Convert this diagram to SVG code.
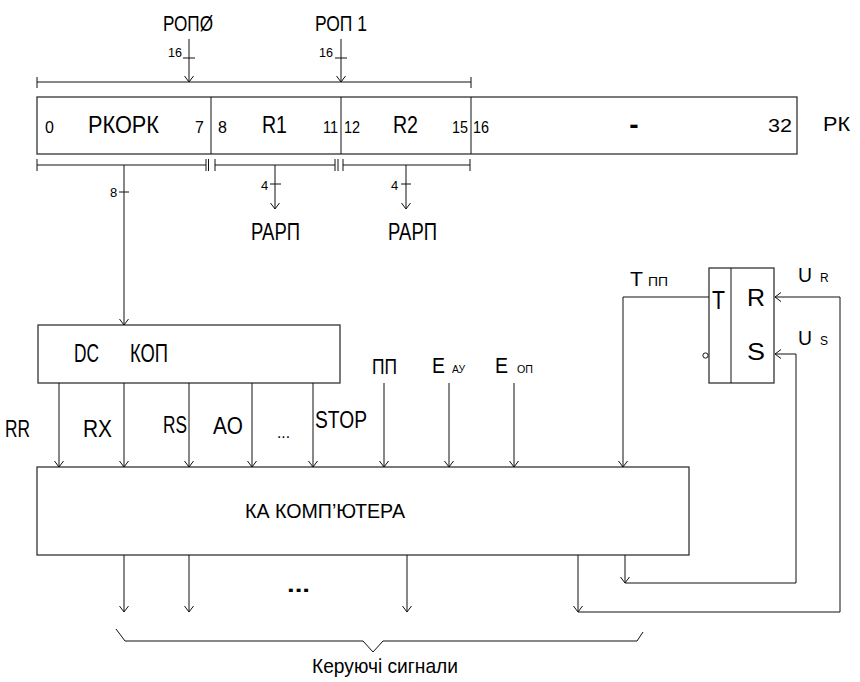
<svg xmlns="http://www.w3.org/2000/svg" width="860" height="682" viewBox="0 0 860 682">
<style>
text{font-family:"Liberation Sans",Arial,sans-serif;fill:#000}
.box{fill:#fff;stroke:#333;stroke-width:1.3}
.ln{fill:none;stroke:#111;stroke-width:1}
.big{font-size:23px}
.mid{font-size:16px}
.sm{font-size:13px}
.sub{font-size:11px}
</style>
<defs>
<marker id="a" viewBox="-7 -5 8 10" refX="0" refY="0" markerWidth="8" markerHeight="10" markerUnits="userSpaceOnUse" orient="auto">
<path d="M-6,-4.5 L0,0 L-6,4.5" fill="none" stroke="#111" stroke-width="1"/>
</marker>
</defs>
<rect width="860" height="682" fill="#fff"/>

<g id="register">
<rect class="box" x="37" y="97" width="760" height="57"/>
<line class="ln" x1="211" y1="97" x2="211" y2="154" stroke-width="1.3"/>
<line class="ln" x1="341" y1="97" x2="341" y2="154" stroke-width="1.3"/>
<line class="ln" x1="471" y1="97" x2="471" y2="154" stroke-width="1.3"/>
<text class="mid" x="45" y="133">0</text>
<text class="big" x="88" y="133" textLength="71" lengthAdjust="spacingAndGlyphs">РКОРК</text>
<text class="mid" x="195" y="133">7</text>
<text class="mid" x="218" y="133">8</text>
<text class="big" x="262" y="133" textLength="25" lengthAdjust="spacingAndGlyphs">R1</text>
<text class="mid" x="323" y="133" textLength="15" lengthAdjust="spacingAndGlyphs">11</text>
<text class="mid" x="344" y="133" textLength="16" lengthAdjust="spacingAndGlyphs">12</text>
<text class="big" x="393" y="133" textLength="25" lengthAdjust="spacingAndGlyphs">R2</text>
<text class="mid" x="452" y="133" textLength="16" lengthAdjust="spacingAndGlyphs">15</text>
<text class="mid" x="473" y="133" textLength="16" lengthAdjust="spacingAndGlyphs">16</text>
<text x="634" y="134" font-size="28" font-weight="bold" text-anchor="middle">-</text>
<text x="768" y="132" font-size="19" textLength="24" lengthAdjust="spacingAndGlyphs">32</text>
</g>
<text id="rk" x="823" y="131" font-size="21" textLength="27" lengthAdjust="spacingAndGlyphs">РК</text>

<g id="dc">
<rect class="box" x="38" y="325" width="302" height="58"/>
<text x="74" y="362" font-size="25" textLength="25" lengthAdjust="spacingAndGlyphs">DC</text>
<text x="130" y="362" font-size="25" textLength="38" lengthAdjust="spacingAndGlyphs">КОП</text>
</g>

<g id="ka">
<rect class="box" x="37" y="467" width="652" height="88"/>
<text x="245" y="518" font-size="21" textLength="160" lengthAdjust="spacingAndGlyphs">КА  КОМП’ЮТЕРА</text>
</g>

<g id="trigger">
<rect class="box" x="709" y="268" width="65" height="115"/>
<line class="ln" x1="731" y1="268" x2="731" y2="383" stroke-width="1.3"/>
<text x="712" y="309" font-size="25" textLength="13" lengthAdjust="spacingAndGlyphs">T</text>
<text x="747" y="306" font-size="24" textLength="18" lengthAdjust="spacingAndGlyphs">R</text>
<text x="747" y="360" font-size="24" textLength="18" lengthAdjust="spacingAndGlyphs">S</text>
<circle cx="705.5" cy="355.5" r="2.6" fill="#fff" stroke="#111" stroke-width="1"/>
</g>

<g id="connectors">
<path class="ln" d="M37,82 H471 M37,77 V88 M471,77 V88"/>
<path class="ln" d="M189,39 V82" marker-end="url(#a)"/>
<path class="ln" d="M183,58 H195"/>
<path class="ln" d="M341,39 V82" marker-end="url(#a)"/>
<path class="ln" d="M335,58 H347"/>
<path class="ln" d="M37,165 H206 M37,159 V171 M206,159 V171 M208.5,159 V171"/>
<path class="ln" d="M215,165 H335 M215,159 V171 M335,159 V171 M338,159 V171"/>
<path class="ln" d="M343,165 H470 M343,159 V171 M470,159 V171"/>
<path class="ln" d="M124,165 V325" marker-end="url(#a)"/>
<path class="ln" d="M119,192 H129"/>
<path class="ln" d="M275,165 V209" marker-end="url(#a)"/>
<path class="ln" d="M270,184 H281"/>
<path class="ln" d="M406,165 V209" marker-end="url(#a)"/>
<path class="ln" d="M401,184 H411"/>
<path class="ln" d="M59,383 V467" marker-end="url(#a)"/>
<path class="ln" d="M124,383 V467" marker-end="url(#a)"/>
<path class="ln" d="M189,383 V467" marker-end="url(#a)"/>
<path class="ln" d="M252,383 V467" marker-end="url(#a)"/>
<path class="ln" d="M313,383 V467" marker-end="url(#a)"/>
<path class="ln" d="M384,383 V467" marker-end="url(#a)"/>
<path class="ln" d="M449,383 V467" marker-end="url(#a)"/>
<path class="ln" d="M514,383 V467" marker-end="url(#a)"/>
<path class="ln" d="M709,297 H623 V467" marker-end="url(#a)"/>
<path class="ln" d="M578,555 V612" marker-end="url(#a)"/>
<path class="ln" d="M578,612 H840 V297 H775" marker-end="url(#a)"/>
<path class="ln" d="M625,555 V583" marker-end="url(#a)"/>
<path class="ln" d="M625,583 H796 V354 H775" marker-end="url(#a)"/>
<path class="ln" d="M124,555 V612" marker-end="url(#a)"/>
<path class="ln" d="M189,555 V612" marker-end="url(#a)"/>
<path class="ln" d="M407,555 V612" marker-end="url(#a)"/>
<path class="ln" d="M116,629 L125,641 L363,641 L373,652 L383,641 L637,641 L643,632"/>
</g>

<g id="labels">
<text x="163" y="31" font-size="22" textLength="50" lengthAdjust="spacingAndGlyphs">РОПØ</text>
<text x="315" y="31" font-size="22" textLength="52" lengthAdjust="spacingAndGlyphs">РОП 1</text>
<text class="sm" x="168" y="57" textLength="14" lengthAdjust="spacingAndGlyphs">16</text>
<text class="sm" x="319" y="57" textLength="14" lengthAdjust="spacingAndGlyphs">16</text>
<text class="sm" x="110" y="197">8</text>
<text class="sm" x="261" y="190">4</text>
<text class="sm" x="391" y="190">4</text>
<text class="big" x="251" y="240" textLength="49" lengthAdjust="spacingAndGlyphs">РАРП</text>
<text class="big" x="388" y="240" textLength="49" lengthAdjust="spacingAndGlyphs">РАРП</text>
<text x="5" y="437" font-size="23" textLength="25" lengthAdjust="spacingAndGlyphs">RR</text>
<text x="83" y="437" font-size="23" textLength="29" lengthAdjust="spacingAndGlyphs">RX</text>
<text x="163" y="433" font-size="23" textLength="24" lengthAdjust="spacingAndGlyphs">RS</text>
<text x="213" y="434" font-size="23" textLength="30" lengthAdjust="spacingAndGlyphs">AO</text>
<text x="277" y="438" font-size="16" textLength="13" lengthAdjust="spacingAndGlyphs">...</text>
<text x="315" y="428" font-size="24" textLength="52" lengthAdjust="spacingAndGlyphs">STOP</text>
<text x="372" y="374" font-size="22" textLength="25" lengthAdjust="spacingAndGlyphs">ПП</text>
<text x="432" y="373" font-size="22" textLength="13" lengthAdjust="spacingAndGlyphs">E</text>
<text class="sub" x="452" y="373" textLength="13" lengthAdjust="spacingAndGlyphs">АУ</text>
<text x="495" y="373" font-size="22" textLength="13" lengthAdjust="spacingAndGlyphs">E</text>
<text class="sub" x="517" y="373" textLength="16" lengthAdjust="spacingAndGlyphs">ОП</text>
<text x="630" y="286" font-size="20" textLength="13" lengthAdjust="spacingAndGlyphs">T</text>
<text x="648" y="286" font-size="12" textLength="20" lengthAdjust="spacingAndGlyphs">ПП</text>
<text x="798" y="282" font-size="20" textLength="14" lengthAdjust="spacingAndGlyphs">U</text>
<text x="820" y="282" font-size="12">R</text>
<text x="798" y="345" font-size="20" textLength="14" lengthAdjust="spacingAndGlyphs">U</text>
<text x="820" y="345" font-size="12">S</text>
<text x="287" y="592" font-size="22" font-weight="bold" textLength="23" lengthAdjust="spacingAndGlyphs">...</text>
<text x="312" y="673" font-size="21" textLength="146" lengthAdjust="spacingAndGlyphs">Керуючі  сигнали</text>
</g>
</svg>
